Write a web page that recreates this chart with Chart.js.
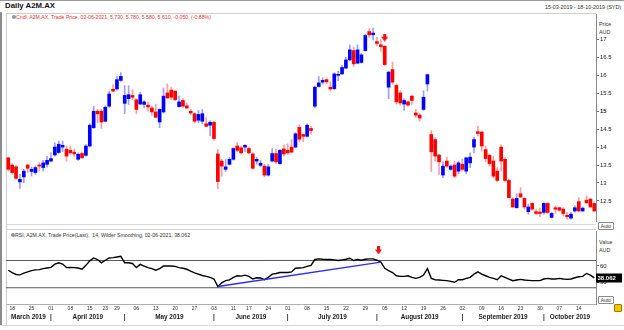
<!DOCTYPE html>
<html lang="en">
<head>
<meta charset="UTF-8">
<title>Daily A2M.AX</title>
<style>
  body { margin: 0; background: #fff; font-family: "Liberation Sans", Arial, sans-serif; }
  #wrap { position: relative; width: 624px; height: 330px; overflow: hidden; background: #fff; }
  #wrap canvas { position: absolute; left: 0; }
  .txt { position: absolute; white-space: nowrap; line-height: 1; }
  .rule { position: absolute; }
  .auto { position: absolute; width: 14px; height: 6px; border: 1px solid #8a8a8a; border-radius: 1px;
          font-size: 5px; line-height: 6px; text-align: center; color: #333; background: #fff; }
</style>
</head>
<body>
<div id="wrap">
  <div class="rule" style="left:0;top:0;width:624px;height:1px;background:#999"></div>
  <div class="rule" style="left:0;top:12px;width:2px;height:314px;background:#8c8c8c"></div>
  <div class="rule" style="left:6px;top:13px;width:1px;height:312px;background:#cfcfcf"></div>
  <div class="rule" style="left:6px;top:13px;width:590px;height:1px;background:#cfcfcf"></div>
  <div class="rule" style="left:6px;top:224px;width:590px;height:1px;background:#d8d8d8"></div>
  <div class="rule" style="left:6px;top:229px;width:590px;height:1px;background:#cfcfcf"></div>
  <div class="rule" style="left:0;top:325px;width:624px;height:1px;background:#d8d8d8"></div>

  <div class="txt" style="left:5px;top:2px;font-size:7.8px;font-weight:bold;color:#111">Daily A2M.AX</div>
  <div class="txt" style="left:545px;top:5px;font-size:5.4px;color:#333">15-03-2019 - 18-10-2019 (SYD)</div>
  <div class="rule" style="left:12px;top:15px;width:4px;height:4px;border-radius:50%;background:#8a96a8"></div>
  <div class="txt" style="left:16px;top:15px;font-size:5.2px;color:#e23232">Cndl, A2M.AX, Trade Price, 02-06-2021, 5.730, 5.780, 5.580, 5.610, -0.050, (-0.88%)</div>
  <div class="txt" style="left:599px;top:22px;font-size:5.4px;color:#333">Price</div>
  <div class="txt" style="left:599px;top:30px;font-size:5.4px;color:#333">AUD</div>
  <div class="auto" style="left:598px;top:222px">Auto</div>

  <div class="rule" style="left:11px;top:233px;width:4px;height:4px;border-radius:50%;background:#8a96a8"></div>
  <div class="txt" style="left:15px;top:232.6px;font-size:5.2px;color:#333">RSI, A2M.AX, Trade Price(Last),&nbsp; 14, Wilder Smoothing, 02-06-2021, 38.062</div>
  <div class="txt" style="left:599px;top:239.5px;font-size:5.4px;color:#333">Value</div>
  <div class="txt" style="left:599px;top:247.5px;font-size:5.4px;color:#333">AUD</div>
  <div class="auto" style="left:598px;top:296px">Auto</div>
  <div class="rule" style="left:614px;top:304px;width:6px;height:6px;border-radius:1px;background:#f4c400;border:0.5px solid #a07800"></div>

  <canvas id="priceChart" width="624" height="226" style="top:0"></canvas>
  <canvas id="rsiChart" width="624" height="104" style="top:226px"></canvas>
</div>
<script src="https://cdn.jsdelivr.net/npm/chart.js@4.4.0/dist/chart.umd.min.js"></script>
<script>
// trading sessions, 15 Mar - 18 Oct 2019 (ASX)
const daysMar = [15, 18, 19, 20, 21, 22, 25, 26, 27, 28, 29];
const daysApr = [1, 2, 3, 4, 5, 8, 9, 10, 11, 12, 15, 16, 17, 18, 23, 24, 26, 29, 30];
const daysMay = [1, 2, 3, 6, 7, 8, 9, 10, 13, 14, 15, 16, 17, 20, 21, 22, 23, 24, 27, 28, 29, 30, 31];
const daysJun = [3, 4, 5, 6, 7, 11, 12, 13, 14, 17, 18, 19, 20, 21, 24, 25, 26, 27, 28];
const daysJul = [1, 2, 3, 4, 5, 8, 9, 10, 11, 12, 15, 16, 17, 18, 19, 22, 23, 24, 25, 26, 29, 30, 31];
const daysAug = [1, 2, 5, 6, 7, 8, 9, 12, 13, 14, 15, 16, 19, 20, 21, 22, 23, 26, 27, 28, 29, 30];
const daysSep = [2, 3, 4, 5, 6, 9, 10, 11, 12, 13, 16, 17, 18, 19, 20, 23, 24, 25, 26, 27, 30];
const daysOct = [1, 2, 3, 4, 7, 8, 9, 10, 11, 14, 15, 16, 17, 18];
const monthNames = ['March 2019', 'April 2019', 'May 2019', 'June 2019', 'July 2019',
                    'August 2019', 'September 2019', 'October 2019'];

// candles
const open = [
  13.70, 13.50, 13.45, 13.03, 13.17, 13.50, 13.32, 13.29, 13.50, 13.43, 13.52,
  13.61, 13.78, 13.85, 14.00, 13.94, 13.91, 13.86, 13.66, 13.82, 13.77, 14.03, 14.54, 15.00, 15.00, 14.72, 15.14, 15.61, 15.62, 15.86,
  15.22, 15.35, 15.44, 15.32, 15.20, 15.19, 15.17, 15.09, 14.98, 14.70, 14.98, 15.51, 15.59, 15.56, 15.13, 15.30, 15.15, 15.00, 14.93, 14.75, 14.72, 14.65, 14.61,
  14.69, 13.81, 13.61, 13.38, 13.52, 13.66, 14.03, 13.98, 14.00, 13.96, 13.81, 13.61, 13.49, 13.47, 13.22, 13.61, 13.82, 13.54, 13.95,
  13.91, 14.00, 14.00, 14.55, 14.35, 14.30, 14.52, 15.14, 15.69, 15.81, 15.88, 15.67, 15.63, 16.00, 16.04, 16.20, 16.43, 16.69, 16.34, 16.36, 16.69, 17.22, 17.13,
  16.94, 16.85, 16.81, 15.67, 16.16, 15.72, 15.51, 15.20, 15.26, 15.42, 14.95, 14.89, 15.05, 15.76, 14.35, 14.21, 13.78, 13.22, 13.61, 13.38, 13.50, 13.33,
  13.52, 13.33, 13.56, 14.00, 14.43, 14.42, 13.93, 13.77, 13.61, 13.33, 14.00, 13.66, 13.07, 12.55, 12.31, 12.70, 12.57, 12.20, 12.43, 12.20, 12.19,
  12.18, 12.43, 12.04, 12.31, 12.31, 12.27, 12.10, 12.02, 12.22, 12.48, 12.22, 12.52, 12.55, 12.43
];
const high = [
  13.72, 13.54, 13.49, 13.24, 13.38, 13.52, 13.44, 13.47, 13.57, 13.63, 13.74,
  13.84, 14.12, 14.17, 14.17, 14.03, 14.03, 13.94, 13.84, 13.87, 14.07, 14.65, 15.14, 15.05, 15.05, 15.15, 15.56, 15.74, 15.97, 16.08,
  15.71, 15.71, 15.60, 15.35, 15.53, 15.30, 15.26, 15.14, 15.19, 15.07, 15.65, 15.76, 15.67, 15.57, 15.42, 15.35, 15.23, 15.05, 14.95, 15.02, 15.05, 14.82, 14.74,
  14.72, 13.94, 13.66, 13.66, 13.72, 13.98, 14.12, 14.03, 14.07, 14.00, 13.84, 13.72, 13.63, 13.52, 13.52, 13.96, 13.94, 13.94, 14.06,
  14.09, 14.21, 14.40, 14.62, 14.37, 14.65, 14.58, 15.70, 15.97, 15.93, 15.93, 15.82, 16.07, 16.11, 16.28, 16.50, 16.85, 16.78, 16.85, 16.62, 17.15, 17.30, 17.32,
  17.06, 16.99, 16.83, 16.11, 16.37, 15.76, 15.57, 15.35, 15.30, 15.45, 15.05, 14.95, 15.57, 16.04, 14.46, 14.26, 13.80, 13.59, 13.72, 13.50, 13.61, 13.61,
  13.66, 13.72, 13.84, 14.28, 14.58, 14.43, 14.03, 13.80, 13.75, 13.43, 14.06, 13.70, 13.10, 12.59, 12.70, 12.87, 12.59, 12.41, 12.45, 12.27, 12.30,
  12.45, 12.45, 12.18, 12.36, 12.33, 12.31, 12.18, 12.18, 12.36, 12.59, 12.33, 12.64, 12.57, 12.45
];
const low = [
  13.33, 13.24, 13.10, 12.85, 13.01, 13.29, 13.19, 13.24, 13.33, 13.33, 13.44,
  13.59, 13.75, 13.82, 13.87, 13.61, 13.80, 13.75, 13.63, 13.69, 13.75, 14.00, 14.52, 14.68, 14.52, 14.70, 15.11, 15.54, 15.59, 15.83,
  14.93, 15.19, 15.32, 14.93, 15.19, 15.09, 15.00, 14.89, 14.81, 14.54, 14.95, 15.35, 15.32, 15.30, 15.11, 15.11, 15.07, 14.91, 14.67, 14.68, 14.65, 14.57, 14.32,
  14.19, 12.84, 13.19, 13.32, 13.50, 13.63, 13.87, 13.80, 13.87, 13.81, 13.38, 13.52, 13.45, 13.17, 13.19, 13.59, 13.54, 13.52, 13.75,
  13.80, 13.84, 13.98, 14.15, 14.15, 14.28, 14.35, 15.09, 15.67, 15.76, 15.76, 15.56, 15.60, 15.85, 16.02, 16.19, 16.41, 16.25, 16.32, 16.34, 16.67, 17.06, 16.99,
  16.83, 16.67, 16.28, 15.35, 15.76, 15.20, 15.17, 15.02, 15.14, 15.19, 14.83, 14.72, 15.02, 15.57, 13.32, 13.61, 13.24, 13.15, 13.43, 13.35, 13.15, 13.26,
  13.33, 13.26, 13.43, 13.84, 14.31, 13.89, 13.59, 13.47, 13.15, 13.04, 13.33, 13.04, 12.58, 12.32, 12.30, 12.59, 12.27, 12.13, 12.24, 12.11, 12.06,
  12.13, 12.15, 12.02, 12.15, 12.22, 12.08, 11.99, 12.00, 12.18, 12.20, 12.20, 12.43, 12.32, 12.20
];
const close = [
  13.38, 13.29, 13.13, 13.10, 13.33, 13.41, 13.38, 13.43, 13.47, 13.56, 13.63,
  13.68, 14.00, 14.08, 14.05, 13.75, 13.84, 13.81, 13.80, 13.70, 14.03, 14.61, 15.00, 14.93, 14.70, 15.11, 15.48, 15.56, 15.88, 15.97,
  15.44, 15.46, 15.39, 15.05, 15.46, 15.26, 15.12, 14.98, 14.83, 15.05, 15.42, 15.37, 15.39, 15.32, 15.26, 15.14, 15.09, 14.95, 14.72, 14.91, 14.93, 14.58, 14.69,
  14.24, 13.04, 13.47, 13.45, 13.66, 13.96, 13.91, 13.84, 14.05, 13.84, 13.41, 13.66, 13.55, 13.22, 13.45, 13.82, 13.59, 13.91, 13.81,
  13.84, 13.86, 14.37, 14.22, 14.30, 14.61, 14.46, 15.67, 15.79, 15.86, 15.82, 15.62, 16.04, 16.02, 16.22, 16.43, 16.71, 16.32, 16.71, 16.57, 17.11, 17.13, 17.18,
  16.89, 16.80, 16.30, 16.09, 15.81, 15.26, 15.23, 15.30, 15.17, 15.30, 14.89, 14.81, 15.39, 16.02, 13.87, 13.75, 13.59, 13.47, 13.47, 13.47, 13.19, 13.56,
  13.38, 13.70, 13.72, 14.21, 14.38, 14.03, 13.68, 13.54, 13.19, 13.07, 13.61, 13.07, 12.59, 12.33, 12.57, 12.61, 12.33, 12.33, 12.27, 12.15, 12.15,
  12.43, 12.18, 12.15, 12.27, 12.24, 12.15, 12.06, 12.13, 12.31, 12.22, 12.30, 12.45, 12.33, 12.22
];

// RSI(14), Wilder smoothing
const rsi = [
  52.1, 47.9, 44.4, 43.7, 46.7, 49.1, 51.5, 52.7, 53.3, 55.1, 56.3,
  57.4, 63.4, 65.8, 63.4, 56.9, 57.4, 56.9, 56.3, 53.9, 61.1, 69.3, 74.7, 71.8, 65.8, 70.5, 74.7, 75.3, 76.5, 77.7,
  65.8, 65.8, 64.6, 56.9, 62.8, 59.8, 56.9, 55.1, 52.1, 55.1, 59.8, 59.8, 59.8, 59.3, 56.9, 55.7, 53.9, 50.4, 47.4, 45.0, 42.5, 40.8, 39.0,
  36.0, 22.3, 29.0, 33.0, 34.3, 39.0, 42.0, 41.4, 43.2, 40.8, 36.0, 38.4, 37.8, 34.8, 39.0, 45.0, 46.1, 47.9, 47.9,
  47.9, 49.1, 55.7, 56.3, 56.9, 59.3, 61.1, 71.8, 73.0, 72.3, 71.8, 71.8, 71.1, 70.0, 71.1, 72.3, 74.1, 70.0, 71.8, 70.5, 72.3, 73.0, 73.0,
  70.5, 67.0, 55.7, 51.5, 47.9, 42.0, 40.8, 40.8, 42.0, 39.0, 37.2, 39.0, 43.2, 55.1, 37.2, 34.8, 34.3, 33.6, 33.0, 31.8, 30.1, 34.8,
  34.8, 37.2, 39.0, 45.0, 49.1, 45.0, 42.0, 39.0, 37.2, 34.8, 42.0, 39.0, 36.0, 33.0, 34.3, 35.4, 34.3, 33.6, 33.0, 33.0, 33.0,
  36.0, 37.2, 36.0, 36.0, 37.2, 36.0, 35.4, 36.0, 38.4, 40.2, 40.8, 46.2, 43.2, 38.062
];
const rsiBands = [70, 20];
const rsiTicks = [60, 30];
const trendFrom = 54, trendTo = 96;     // RSI trend line between these sessions
const priceSignal = { idx: 97, level: 17.05 };
const rsiSignal = { idx: 95.4, level: 88.4 };

const priceMin = 11.94, priceMax = 17.71;
const rsiMin = -9.8, rsiMax = 124.1;
const xMin = -0.59, xMax = 151.44;

// ---- derived ----
const months = [daysMar, daysApr, daysMay, daysJun, daysJul, daysAug, daysSep, daysOct];
const sessions = [];
months.forEach((days, m) => days.forEach(d => sessions.push({ m: m, d: d, t: new Date(Date.UTC(2019, m + 2, d)) })));

const weekTicks = [];
const dayLabel = {};
sessions.forEach((s, i) => {
  if (i > 0 && s.t.getUTCDay() < sessions[i - 1].t.getUTCDay()) {
    weekTicks.push(i);
    dayLabel[i] = String(s.d).padStart(2, '0');
  }
});

const monthStart = [];
sessions.forEach((s, i) => { if (i > 0 && s.m !== sessions[i - 1].m) monthStart.push(i); });
const monthTicks = [];
const monthLabel = {};
const edges = [xMin].concat(monthStart, [xMax]);
monthNames.forEach((name, k) => {
  const c = (edges[k] + edges[k + 1]) / 2;
  monthTicks.push(c);
  monthLabel[c] = name;
});
monthStart.forEach(i => { monthTicks.push(i); monthLabel[i] = '|'; });
monthTicks.sort((a, b) => a - b);

const BLUE = '#0000ff', RED = '#ff0000';
const rising = close.map((c, i) => c >= open[i]);

function arrowGlyph() {
  const c = document.createElement('canvas');
  c.width = 7; c.height = 8;
  const g = c.getContext('2d');
  g.fillStyle = '#f01010';
  g.fillRect(2, 0, 3, 4);
  g.beginPath();
  g.moveTo(0, 3); g.lineTo(7, 3); g.lineTo(3.5, 8); g.closePath();
  g.fill();
  return c;
}
const arrow = arrowGlyph();

Chart.defaults.font.family = '"Liberation Sans", Arial, sans-serif';
Chart.defaults.color = '#222';

const noChrome = {
  legend: { display: false },
  tooltip: { enabled: false }
};

// ---- price panel ----
new Chart(document.getElementById('priceChart'), {
  type: 'bar',
  data: {
    datasets: [
      {
        data: sessions.map((s, i) => ({ x: i, y: [open[i], close[i]] })),
        backgroundColor: rising.map(r => r ? BLUE : RED),
        barThickness: 3,
        minBarLength: 1,
        grouped: false,
        order: 1
      },
      {
        data: sessions.map((s, i) => ({ x: i, y: [low[i], high[i]] })),
        backgroundColor: rising.map(r => r ? 'rgba(40,40,255,0.45)' : 'rgba(255,40,40,0.45)'),
        barThickness: 1,
        grouped: false,
        order: 2
      },
      {
        type: 'scatter',
        data: [{ x: priceSignal.idx, y: priceSignal.level }],
        pointStyle: arrow,
        order: 0
      }
    ]
  },
  options: {
    responsive: false,
    animation: false,
    devicePixelRatio: 1,
    layout: { padding: { top: 14, bottom: 4, left: 6, right: 0 } },
    plugins: noChrome,
    scales: {
      x: { type: 'linear', min: xMin, max: xMax, offset: false, display: false },
      y: {
        position: 'right',
        min: priceMin,
        max: priceMax,
        afterBuildTicks: s => { s.ticks = s.ticks.filter(t => t.value >= 12 && t.value <= 17); },
        afterFit: s => { s.width = 28; },
        ticks: {
          stepSize: 0.5,
          padding: 1,
          color: '#222',
          callback: v => String(Math.round(v * 10) / 10),
          font: c => ({ size: 6, weight: c.tick && c.tick.value === 15 ? 'bold' : 'normal' })
        },
        grid: { drawOnChartArea: false, drawTicks: true, tickLength: 3, color: '#777' },
        border: { display: true, color: '#8a8a8a' }
      }
    }
  }
});

// ---- RSI panel ----
const lastValueBox = {
  id: 'lastValueBox',
  afterDraw(chart) {
    const v = rsi[rsi.length - 1];
    const y = chart.scales.y.getPixelForValue(v);
    const x = chart.chartArea.right;
    const g = chart.ctx;
    g.save();
    g.fillStyle = '#000';
    g.fillRect(x, Math.round(y) - 4.5, 26, 9);
    g.fillStyle = '#fff';
    g.font = 'bold 6px "Liberation Sans", Arial, sans-serif';
    g.textBaseline = 'middle';
    g.fillText(v.toFixed(3), x + 1.5, Math.round(y));
    g.restore();
  }
};

new Chart(document.getElementById('rsiChart'), {
  type: 'line',
  data: {
    datasets: [
      {
        data: rsi.map((v, i) => ({ x: i, y: v })),
        borderColor: '#000',
        borderWidth: 1.4,
        pointRadius: 0,
        xAxisID: 'x', yAxisID: 'y',
        order: 1
      },
      {
        data: [{ x: trendFrom, y: rsi[trendFrom] }, { x: trendTo, y: rsi[trendTo] }],
        borderColor: '#2b2bff',
        borderWidth: 1.3,
        pointRadius: 0,
        xAxisID: 'x', yAxisID: 'y',
        order: 0
      },
      ...rsiBands.map(b => ({
        data: [{ x: xMin, y: b }, { x: xMax, y: b }],
        borderColor: '#5a5a5a',
        borderWidth: 1,
        pointRadius: 0,
        xAxisID: 'x', yAxisID: 'y',
        order: 2
      })),
      {
        type: 'scatter',
        data: [{ x: rsiSignal.idx, y: rsiSignal.level }],
        pointStyle: arrow,
        xAxisID: 'x', yAxisID: 'y',
        order: 0
      }
    ]
  },
  options: {
    responsive: false,
    animation: false,
    devicePixelRatio: 1,
    layout: { padding: { top: 3, bottom: 8, left: 6, right: 0 } },
    plugins: noChrome,
    scales: {
      x: {
        type: 'linear', position: 'bottom', weight: 1,
        min: xMin, max: xMax,
        afterBuildTicks: s => { s.ticks = weekTicks.map(v => ({ value: v })); },
        afterFit: s => { s.height = 9; },
        ticks: {
          autoSkip: false, maxRotation: 0, padding: 2, color: '#333',
          font: { size: 5 },
          callback: v => dayLabel[v] || ''
        },
        grid: { drawOnChartArea: false, drawTicks: false },
        border: { display: true, color: '#b0b0b0' }
      },
      x2: {
        type: 'linear', position: 'bottom', weight: 2,
        min: xMin, max: xMax,
        afterBuildTicks: s => { s.ticks = monthTicks.map(v => ({ value: v })); },
        afterFit: s => { s.height = 9; },
        ticks: {
          autoSkip: false, maxRotation: 0, padding: 0, color: '#1a1a1a',
          font: { size: 6.4, weight: 'bold' },
          callback: v => monthLabel[v] || ''
        },
        grid: { display: false, drawTicks: false },
        border: { display: false }
      },
      y: {
        position: 'right',
        min: rsiMin, max: rsiMax,
        afterBuildTicks: s => { s.ticks = rsiTicks.map(v => ({ value: v })); },
        afterFit: s => { s.width = 28; },
        ticks: { padding: 1, color: '#222', font: { size: 6 } },
        grid: { drawOnChartArea: false, drawTicks: true, tickLength: 3, color: '#777' },
        border: { display: true, color: '#8a8a8a' }
      }
    }
  },
  plugins: [lastValueBox]
});
</script>
</body>
</html>
